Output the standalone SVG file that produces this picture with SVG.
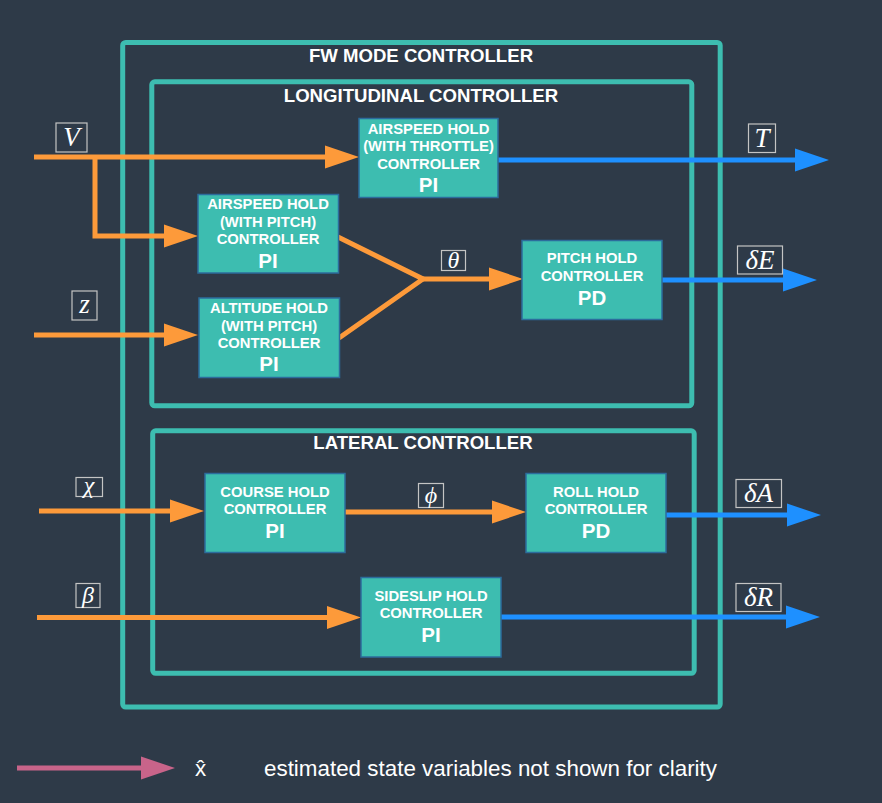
<svg xmlns="http://www.w3.org/2000/svg" width="882" height="803" viewBox="0 0 882 803">
<style>
.frame{fill:none;stroke:#3dbdb0;stroke-width:5}
.title{font-family:"Liberation Sans",Arial,sans-serif;font-weight:bold;font-size:18.6px;fill:#ffffff;text-anchor:middle}
.box{fill:#3dbdb0;stroke:#2c6c9c;stroke-width:1.5}
.bt{font-family:"Liberation Sans",Arial,sans-serif;font-weight:bold;font-size:14.8px;fill:#ffffff;text-anchor:middle}
.bb{font-family:"Liberation Sans",Arial,sans-serif;font-weight:bold;font-size:20.5px;fill:#ffffff;text-anchor:middle}
.lb{fill:none;stroke:#c4c4c4;stroke-width:1.2}
.m{font-family:"Liberation Serif","Times New Roman",serif;font-style:italic;font-size:27px;fill:#ffffff;text-anchor:middle}
.ms{font-size:24px}
.or{fill:none;stroke:#fd9a3a;stroke-width:5;marker-end:url(#ho)}
.or2{fill:none;stroke:#fd9a3a;stroke-width:5}
.bl{fill:none;stroke:#1e90ff;stroke-width:5;marker-end:url(#hb)}
.pk{fill:none;stroke:#c8648a;stroke-width:5;marker-end:url(#hp)}
.leg{font-family:"Liberation Sans",Arial,sans-serif;font-size:22.4px;fill:#ffffff}
</style>
<defs>
<marker id="ho" markerUnits="userSpaceOnUse" markerWidth="34" markerHeight="23" refX="0" refY="11.5" orient="auto" overflow="visible"><path d="M0,0 L34,11.5 L0,23 z" fill="#fd9a3a"/></marker>
<marker id="hb" markerUnits="userSpaceOnUse" markerWidth="34" markerHeight="23" refX="0" refY="11.5" orient="auto" overflow="visible"><path d="M0,0 L34,11.5 L0,23 z" fill="#1e90ff"/></marker>
<marker id="hp" markerUnits="userSpaceOnUse" markerWidth="34" markerHeight="23" refX="0" refY="11.5" orient="auto" overflow="visible"><path d="M0,0 L34,11.5 L0,23 z" fill="#c8648a"/></marker>
</defs>
<rect x="0" y="0" width="882" height="803" fill="#2e3a48"/>

<g id="fw-mode-controller">
<rect class="frame" x="122.7" y="42.5" width="597.5" height="664.5" rx="3"/>
<text class="title" x="421" y="62">FW MODE CONTROLLER</text>
</g>
<g id="longitudinal-controller">
<rect class="frame" x="151.8" y="81.8" width="540" height="324" rx="3"/>
<text class="title" x="421" y="102">LONGITUDINAL CONTROLLER</text>
</g>
<g id="lateral-controller">
<rect class="frame" x="152.7" y="430.8" width="541.5" height="242.5" rx="3"/>
<text class="title" x="423" y="449">LATERAL CONTROLLER</text>
</g>

<g id="connectors">
<path class="or" d="M34,157 H325"/>
<path class="or" d="M95,157 V236 H164"/>
<path class="or" d="M34,335 H164"/>
<path class="or2" d="M338,237 L423,279 L339,338"/>
<path class="or" d="M420,279 H489"/>
<path class="bl" d="M498,160 H795"/>
<path class="bl" d="M662,280 H783"/>
<path class="or" d="M39,511 H170"/>
<path class="or" d="M345,512 H492"/>
<path class="bl" d="M666,515 H787"/>
<path class="or" d="M37,617.5 H327"/>
<path class="bl" d="M501,617 H786"/>
</g>

<g id="airspeed-throttle">
<rect class="box" x="359" y="118.5" width="139" height="79"/>
<text class="bt" x="428.5" y="133.5">AIRSPEED HOLD</text>
<text class="bt" x="428.5" y="151">(WITH THROTTLE)</text>
<text class="bt" x="428.5" y="168.5">CONTROLLER</text>
<text class="bb" x="428.5" y="192">PI</text>
</g>
<g id="airspeed-pitch">
<rect class="box" x="198" y="194.5" width="140.5" height="78.5"/>
<text class="bt" x="268" y="209">AIRSPEED HOLD</text>
<text class="bt" x="268" y="226.5">(WITH PITCH)</text>
<text class="bt" x="268" y="244">CONTROLLER</text>
<text class="bb" x="268" y="268">PI</text>
</g>
<g id="altitude-hold">
<rect class="box" x="199" y="298" width="140.5" height="79.5"/>
<text class="bt" x="269" y="313">ALTITUDE HOLD</text>
<text class="bt" x="269" y="330.5">(WITH PITCH)</text>
<text class="bt" x="269" y="348">CONTROLLER</text>
<text class="bb" x="269" y="371">PI</text>
</g>
<g id="pitch-hold">
<rect class="box" x="522" y="240.5" width="140" height="79"/>
<text class="bt" x="592" y="263">PITCH HOLD</text>
<text class="bt" x="592" y="281">CONTROLLER</text>
<text class="bb" x="592" y="305">PD</text>
</g>
<g id="course-hold">
<rect class="box" x="205" y="473.5" width="140" height="79"/>
<text class="bt" x="275" y="497">COURSE HOLD</text>
<text class="bt" x="275" y="514">CONTROLLER</text>
<text class="bb" x="275" y="538">PI</text>
</g>
<g id="roll-hold">
<rect class="box" x="526" y="473.5" width="140" height="79"/>
<text class="bt" x="596" y="497">ROLL HOLD</text>
<text class="bt" x="596" y="514">CONTROLLER</text>
<text class="bb" x="596" y="538">PD</text>
</g>
<g id="sideslip-hold">
<rect class="box" x="361" y="577.5" width="140" height="79.5"/>
<text class="bt" x="431" y="601">SIDESLIP HOLD</text>
<text class="bt" x="431" y="618">CONTROLLER</text>
<text class="bb" x="431" y="642">PI</text>
</g>

<g id="labels">
<rect class="lb" x="56" y="123" width="31" height="29"/><text class="m" x="71.5" y="146">V</text>
<rect class="lb" x="72" y="291" width="25" height="29"/><text class="m" x="84.5" y="313">z</text>
<rect class="lb" x="441.5" y="250.5" width="24" height="20"/><text class="m ms" x="453.5" y="268">θ</text>
<rect class="lb" x="748.5" y="124" width="27" height="28.5"/><text class="m" x="762" y="147">T</text>
<rect class="lb" x="737.5" y="246" width="45" height="28"/><text class="m" x="760" y="269">δE</text>
<rect class="lb" x="76" y="477.5" width="26.5" height="19"/><text class="m ms" x="89" y="493">χ</text>
<rect class="lb" x="418.5" y="483.5" width="25" height="24"/><text class="m ms" x="431" y="503">ϕ</text>
<rect class="lb" x="736" y="479.5" width="45.5" height="28"/><text class="m" x="758.5" y="502">δA</text>
<rect class="lb" x="76" y="583.5" width="24" height="24"/><text class="m ms" x="88" y="603">β</text>
<rect class="lb" x="736" y="583.5" width="45" height="28"/><text class="m" x="758.5" y="606">δR</text>
</g>

<g id="legend">
<path class="pk" d="M17,768 H141"/>
<text class="leg" x="195" y="776">x̂</text>
<text class="leg" x="264" y="776">estimated state variables not shown for clarity</text>
</g>
</svg>
